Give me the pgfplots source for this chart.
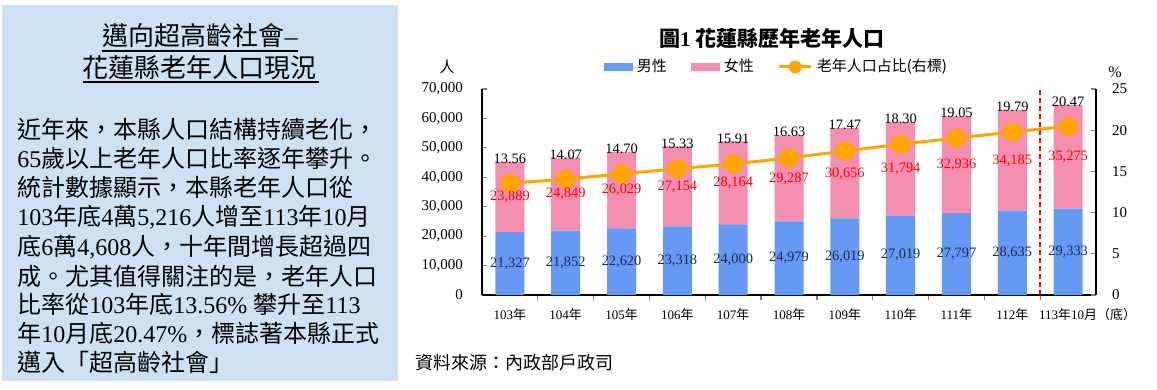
\documentclass[border=0pt]{standalone}
\usepackage{fontspec}
\setmainfont{Liberation Serif}
\newfontfamily\cjk{Noto Sans CJK TC}
\usepackage{pgfplots}
\usepackage{pgfplotstable}
\pgfplotsset{compat=1.18}

\definecolor{panelbg}{RGB}{207,226,243}
\definecolor{maleC}{RGB}{102,153,244}
\definecolor{femaleC}{RGB}{244,143,177}
\definecolor{lineC}{RGB}{255,165,0}
\definecolor{navyC}{RGB}{28,40,80}

\newcommand\C[1]{{\cjk #1}}

% 103年 .. 113年10月底, elderly population (male/female) and share (%)
\pgfplotstableread{
x male female pct
0 21327 23889 13.56
1 21852 24849 14.07
2 22620 26029 14.70
3 23318 27154 15.33
4 24000 28164 15.91
5 24979 29287 16.63
6 26019 30656 17.47
7 27019 31794 18.30
8 27797 32936 19.05
9 28635 34185 19.79
10 29333 35275 20.47
}\datatable

\pgfplotsset{
  base/.style={
    scale only axis, width=307pt, height=103pt,
    at={(241pt,-147.5pt)}, anchor=south west,
    xmin=-0.5, xmax=10.5,
    enlargelimits=false,
    /pgf/number format/assume math mode=true,
    /pgf/number format/1000 sep={,},
    ticklabel style={font=\fontsize{7.5}{8}\selectfont},
  }
}

\begin{document}
\begin{tikzpicture}
\useasboundingbox (0,0) rectangle (578.5pt,-195pt);

% left text panel, pixel coordinates
\begin{scope}[x=0.5pt,y=-0.5pt]
\fill[panelbg] (2,5) rectangle (398,381);
\node[anchor=base, font=\fontsize{13}{15}\selectfont] at (200,46) {\C{邁向超高齡社會}–};
\draw[line width=0.6pt] (102,51) -- (298,51);
\node[anchor=base, font=\fontsize{13}{15}\selectfont] at (200,78) {\C{花蓮縣老年人口現況}};
\draw[line width=0.6pt] (83,82) -- (319,82);
\begin{scope}[every node/.style={anchor=base west, inner sep=0pt, font=\fontsize{12}{14}\selectfont}]
\node at (17,139) {\C{近年來，本縣人口結構持續老化，}};
\node at (17,168) {65\C{歲以上老年人口比率逐年攀升。}};
\node at (17,197) {\C{統計數據顯示，本縣老年人口從}};
\node at (17,226) {103\C{年底}4\C{萬}5,216\C{人增至}113\C{年}10\C{月}};
\node at (17,256) {\C{底}6\C{萬}4,608\C{人，十年間增長超過四}};
\node at (17,285) {\C{成。尤其值得關注的是，老年人口}};
\node at (17,313) {\C{比率從}103\C{年底}13.56\% \C{攀升至}113};
\node at (17,342) {\C{年}10\C{月底}20.47\%\C{，標誌著本縣正式}};
\node at (17,371) {\C{邁入「超高齡社會」}};
\end{scope}
% chart title, units, source
\node[anchor=base, font=\fontsize{10.5}{12}\selectfont\bfseries] at (772,47) {\C{圖}1 \C{花蓮縣歷年老年人口}};
\node[font=\fontsize{7.5}{8}\selectfont] at (447,67) {\C{人}};
\node[font=\fontsize{8}{9}\selectfont] at (1115,72) {\%};
\node[anchor=base west, inner sep=0pt, font=\fontsize{9}{10}\selectfont] at (415,369) {\C{資料來源：內政部戶政司}};
\end{scope}

% stacked bars
\begin{axis}[base,
  ybar stacked, bar width=14.5pt,
  ymin=0, ymax=70000,
  ytick={0,10000,...,70000},
  scaled y ticks=false,
  axis x line*=bottom, axis y line*=left,
  axis line style={line width=0.7pt},
  tick align=inside, major tick length=2.5pt, minor tick length=2.5pt,
  xtick={0,...,10},
  major x tick style={draw=none},
  minor xtick={0.5,1.5,...,9.5},
  minor x tick style={yshift=-2.5pt, line width=0.6pt},
  ytick style={line width=0.6pt},
  xticklabels={103\C{年},104\C{年},105\C{年},106\C{年},107\C{年},108\C{年},109\C{年},110\C{年},111\C{年},112\C{年},113\C{年}10\C{月}\rlap{\C{（底）}}},
  xticklabel style={font=\fontsize{6.5}{7}\selectfont, yshift=-3pt},
  yticklabel style={xshift=-6pt},
  legend style={at={(0.481,1.107)}, anchor=center, draw=none, fill=none,
    legend columns=-1, font=\fontsize{7.5}{8}\cjk,
    /tikz/every even column/.append style={column sep=10pt}},
]
\addplot[fill=maleC, draw=none,
  legend image code/.code={\fill[maleC] (0pt,-2pt) rectangle (14.5pt,2pt);}]
  table[x=x, y=male]{\datatable};
\addlegendentry{男性}
\addplot[fill=femaleC, draw=none,
  legend image code/.code={\fill[femaleC] (0pt,-2pt) rectangle (14.5pt,2pt);}]
  table[x=x, y=female]{\datatable};
\addlegendentry{女性}
\addlegendimage{legend image code/.code={\draw[lineC, line width=1.5pt] (0pt,0pt) -- (16pt,0pt); \fill[lineC] (8pt,0pt) circle (3pt);}}
\addlegendentry{老年人口占比(右標)}
\draw[red, line width=0.7pt, dash pattern=on 2.5pt off 1.5pt] (axis cs:9.5,0) -- (axis cs:9.5,70000);
\end{axis}

% share line, right axis
\begin{axis}[base,
  ymin=0, ymax=25,
  ytick={0,5,...,25},
  axis y line*=right, axis x line=none,
  axis line style={line width=0.7pt},
  tick align=inside, major tick length=2.5pt,
  ytick style={line width=0.6pt},
  xtick=\empty,
  yticklabel style={xshift=4.5pt},
]
\addplot[lineC, line width=1.5pt, mark=*, mark size=4pt, mark options={fill=lineC, draw=lineC}]
  table[x=x, y=pct]{\datatable};
\end{axis}

% value labels
\begin{axis}[base, ymin=0, ymax=70000, hide axis]
\addplot[draw=none, mark=none, nodes near coords, point meta=explicit,
  every node near coord/.append style={anchor=center, text=navyC, font=\fontsize{7.2}{8}\selectfont}]
  table[x=x, y expr=\thisrow{male}/2, meta=male]{\datatable};
\addplot[draw=none, mark=none, nodes near coords, point meta=explicit,
  every node near coord/.append style={anchor=center, text=red, font=\fontsize{7.2}{8}\selectfont}]
  table[x=x, y expr=\thisrow{male}+\thisrow{female}/2, meta=female]{\datatable};
\addplot[draw=none, mark=none, nodes near coords, point meta=explicit,
  nodes near coords={\pgfmathprintnumber[fixed, fixed zerofill, precision=2]{\pgfplotspointmeta}},
  every node near coord/.append style={anchor=center, yshift=1.5pt, text=black, font=\fontsize{7.2}{8}\selectfont}]
  table[x=x, y expr=\thisrow{male}+\thisrow{female}, meta=pct]{\datatable};
\end{axis}
\end{tikzpicture}
\end{document}
